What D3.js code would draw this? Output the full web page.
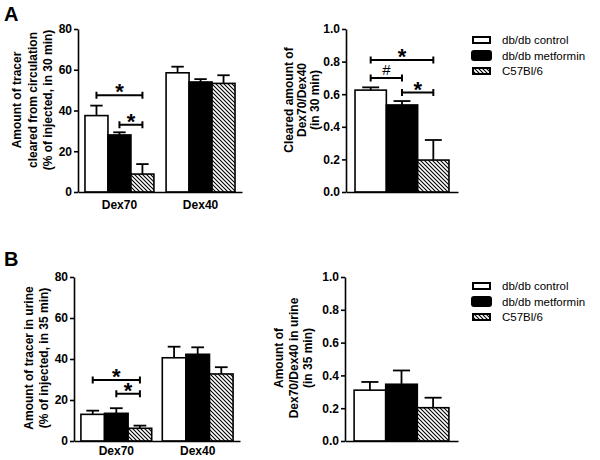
<!DOCTYPE html>
<html>
<head>
<meta charset="utf-8">
<script src="https://cdn.jsdelivr.net/npm/d3@7"></script>
<style>
  body { margin: 0; background: #fff; }
  svg { font-family: 'Liberation Sans', Arial, sans-serif; }
</style>
</head>
<body>
<div id="chart"></div>
<script>
const groups = ['Dex70', 'Dex40']
const series = ['db/db control', 'db/db metformin', 'C57Bl/6']
const percentTicks = [0, 20, 40, 60, 80]
const ratioTicks = [0, 0.2, 0.4, 0.6, 0.8, 1.0]

// A left: tracer cleared from circulation, per series [Dex70, Dex40]
const clearedMean = [[37.5, 58.5], [28.0, 54.0], [8.8, 53.3]]
const clearedSem = [[4.9, 3.0], [1.3, 1.4], [4.9, 4.0]]
const clearedSig = [
  { group: 'Dex70', from: 0, to: 2, value: 47.5, mark: '*' },
  { group: 'Dex70', from: 1, to: 2, value: 33, mark: '*' }
]

// A right: cleared Dex70/Dex40 ratio
const clearedRatioMean = [[0.625], [0.534], [0.196]]
const clearedRatioSem = [[0.017], [0.024], [0.123]]
const clearedRatioSig = [
  { group: 'ratio', from: 0, to: 2, value: 0.81, mark: '*' },
  { group: 'ratio', from: 0, to: 1, value: 0.70, mark: '#' },
  { group: 'ratio', from: 1, to: 2, value: 0.61, mark: '*' }
]

// B left: tracer in urine
const urineMean = [[13.0, 40.6], [13.5, 42.3], [6.2, 32.7]]
const urineSem = [[1.8, 5.4], [2.5, 3.4], [1.3, 3.3]]
const urineSig = [
  { group: 'Dex70', from: 0, to: 2, value: 29.8, mark: '*' },
  { group: 'Dex70', from: 1, to: 2, value: 23, mark: '*' }
]

// B right: urine Dex70/Dex40 ratio
const urineRatioMean = [[0.31], [0.346], [0.203]]
const urineRatioSem = [[0.05], [0.084], [0.061]]

const fills = ['#fff', '#000', 'url(#hatch)']

const svg = d3.select('#chart')
  .append('svg')
  .attr('width', 600)
  .attr('height', 460)

const pattern = svg.append('defs').append('pattern')
  .attr('id', 'hatch')
  .attr('patternUnits', 'userSpaceOnUse')
  .attr('width', 4)
  .attr('height', 4)
pattern.append('rect').attr('width', 4).attr('height', 4).attr('fill', '#fff')
pattern.append('path')
  .attr('d', 'M-1,-1L5,5M-1,3L1,5M3,-1L5,1')
  .attr('stroke', '#000')
  .attr('stroke-width', 1.1)

function drawPanel (p) {
  const y = d3.scaleLinear(p.domain, [p.bottom, p.top])
  const x = d3.scaleBand(p.groups, [p.left, p.right])
    .paddingInner(p.inner)
    .paddingOuter(p.outer)
  const xs = d3.scaleBand(d3.range(series.length), [0, x.bandwidth()])
  const cx = (g, s) => x(g) + xs(s) + xs.bandwidth() / 2

  const g = svg.append('g')

  // bars
  series.forEach((name, s) => {
    g.append('g')
      .selectAll('rect')
      .data(p.groups.map((grp, i) => ({ grp, v: p.mean[s][i], e: p.sem[s][i] })))
      .enter()
      .append('rect')
      .attr('x', d => x(d.grp) + xs(s))
      .attr('y', d => y(d.v))
      .attr('width', xs.bandwidth())
      .attr('height', d => y(0) - y(d.v))
      .attr('fill', fills[s])
      .attr('stroke', '#000')
      .attr('stroke-width', 1.6)

    const err = g.append('g')
      .selectAll('g')
      .data(p.groups.map((grp, i) => ({ grp, v: p.mean[s][i], e: p.sem[s][i] })))
      .enter()
      .append('g')
      .attr('stroke', '#000')
      .attr('stroke-width', 1.8)
    err.append('line')
      .attr('x1', d => cx(d.grp, s))
      .attr('x2', d => cx(d.grp, s))
      .attr('y1', d => y(d.v))
      .attr('y2', d => y(d.v + d.e))
    err.append('line')
      .attr('x1', d => cx(d.grp, s) - xs.bandwidth() * 0.27)
      .attr('x2', d => cx(d.grp, s) + xs.bandwidth() * 0.27)
      .attr('y1', d => y(d.v + d.e))
      .attr('y2', d => y(d.v + d.e))
  })

  // significance brackets
  const sig = g.append('g')
    .selectAll('g')
    .data(p.sig || [])
    .enter()
    .append('g')
  sig.append('path')
    .attr('d', d => {
      const x1 = cx(d.group, d.from)
      const x2 = cx(d.group, d.to)
      const yy = y(d.value)
      return `M${x1},${yy - 3.5}V${yy + 3.5}M${x1},${yy}H${x2}M${x2},${yy - 3.5}V${yy + 3.5}`
    })
    .attr('fill', 'none')
    .attr('stroke', '#000')
    .attr('stroke-width', 2)
  sig.append('text')
    .attr('x', d => (cx(d.group, d.from) + cx(d.group, d.to)) / 2)
    .attr('y', d => y(d.value) + (d.mark === '*' ? 4 : -2.5))
    .attr('text-anchor', 'middle')
    .style('font-size', d => d.mark === '*' ? '22px' : '15px')
    .style('font-weight', d => d.mark === '*' ? 'bold' : 'normal')
    .text(d => d.mark)

  // axes
  const yAxis = g.append('g')
    .attr('transform', `translate(${p.left},0)`)
    .call(d3.axisLeft(y).tickValues(p.ticks).tickFormat(p.format).tickSize(4).tickSizeOuter(0).tickPadding(2))
  const xAxis = g.append('g')
    .attr('transform', `translate(0,${p.bottom})`)
    .call(d3.axisBottom(x).tickSize(0).tickSizeOuter(0).tickPadding(p.groupPad).tickFormat(p.showGroups ? d => d : ''))
  ;[yAxis, xAxis].forEach(a => {
    a.selectAll('path, line').attr('stroke', '#000').attr('stroke-width', 1.6)
    a.selectAll('text')
      .attr('fill', '#000')
      .style('font-size', '12px')
      .style('font-weight', 'bold')
  })

  // y label
  g.append('text')
    .attr('transform', `translate(${p.labelX},${p.labelY}) rotate(-90)`)
    .attr('text-anchor', 'middle')
    .style('font-size', '12px')
    .style('font-weight', 'bold')
    .selectAll('tspan')
    .data(p.label)
    .enter()
    .append('tspan')
    .attr('x', 0)
    .attr('y', (d, i) => i * p.labelGap)
    .text(d => d)
}

function drawLegend (lx, ly) {
  const lg = svg.append('g').attr('transform', `translate(${lx},${ly})`)
  const item = lg.selectAll('g')
    .data(series)
    .enter()
    .append('g')
    .attr('transform', (d, i) => `translate(0,${i * 15.5})`)
  item.append('rect')
    .attr('x', (d, i) => i === 1 ? -1 : 0)
    .attr('y', (d, i) => i === 1 ? -4.5 : -3)
    .attr('width', (d, i) => i === 1 ? 19 : 17)
    .attr('height', (d, i) => i === 1 ? 9 : 6)
    .attr('rx', (d, i) => i === 1 ? 2 : 0)
    .attr('fill', (d, i) => fills[i])
    .attr('stroke', '#000')
    .attr('stroke-width', 2)
  item.append('text')
    .attr('x', 29)
    .attr('dy', '0.36em')
    .style('font-size', '11.5px')
    .text(d => d)
}

drawPanel({
  groups, mean: clearedMean, sem: clearedSem, sig: clearedSig,
  domain: [0, 80], ticks: percentTicks, format: d3.format('d'),
  left: 78, right: 242, top: 29, bottom: 192, inner: 0.15, outer: 0.086, showGroups: true, groupPad: 8,
  label: ['Amount of tracer', 'cleared from circulation', '(% of injected, in 30 min)'],
  labelX: 21, labelY: 100, labelGap: 15.5
})
drawPanel({
  groups: ['ratio'], mean: clearedRatioMean, sem: clearedRatioSem, sig: clearedRatioSig,
  domain: [0, 1], ticks: ratioTicks, format: d3.format('.1f'),
  left: 346, right: 458, top: 29, bottom: 192, inner: 0, outer: 0.096, showGroups: false, groupPad: 8,
  label: ['Cleared amount of', 'Dex70/Dex40', '(in 30 min)'],
  labelX: 293, labelY: 100, labelGap: 12.8
})
drawPanel({
  groups, mean: urineMean, sem: urineSem, sig: urineSig,
  domain: [0, 80], ticks: percentTicks, format: d3.format('d'),
  left: 74, right: 240, top: 277, bottom: 441, inner: 0.13, outer: 0.085, showGroups: true, groupPad: 5,
  label: ['Amount of tracer in urine', '(% of injected, in 35 min)'],
  labelX: 33, labelY: 358, labelGap: 15
})
drawPanel({
  groups: ['ratio'], mean: urineRatioMean, sem: urineRatioSem,
  domain: [0, 1], ticks: ratioTicks, format: d3.format('.1f'),
  left: 345, right: 458, top: 277, bottom: 441, inner: 0, outer: 0.096, showGroups: false, groupPad: 5,
  label: ['Amount of', 'Dex70/Dex40 in urine', '(in 35 min)'],
  labelX: 283, labelY: 358, labelGap: 14.5
})

drawLegend(473, 40)
drawLegend(473, 286)

svg.append('text').attr('x', 4).attr('y', 21)
  .style('font-size', '20px').style('font-weight', 'bold').text('A')
svg.append('text').attr('x', 4).attr('y', 266)
  .style('font-size', '20px').style('font-weight', 'bold').text('B')
</script>
</body>
</html>
